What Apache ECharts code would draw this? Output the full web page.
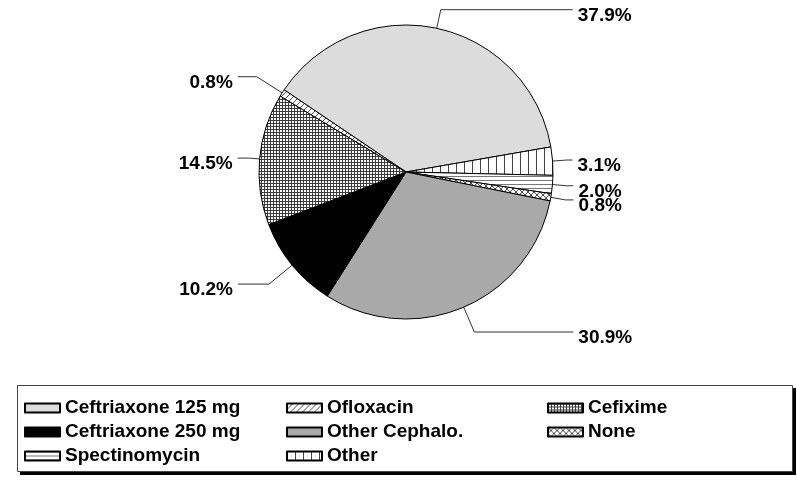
<!DOCTYPE html>
<html>
<head>
<meta charset="utf-8">
<script src="https://cdn.jsdelivr.net/npm/echarts@6/dist/echarts.min.js"></script>
<style>
  html, body { margin: 0; padding: 0; background: #fff; }
  #main { width: 797px; height: 480px; }
</style>
</head>
<body>
<div id="main"></div>
<script>
// slices in drawing order (clockwise from the upper left)
const treatments = ['Ceftriaxone 125 mg', 'Other', 'Spectinomycin', 'None', 'Other Cephalo.', 'Ceftriaxone 250 mg', 'Cefixime', 'Ofloxacin'];
const shares = [37.9, 3.1, 2.0, 0.8, 30.9, 10.2, 14.5, 0.8];

// legend columns (read row by row in the box)
const legendCol1 = ['Ceftriaxone 125 mg', 'Ceftriaxone 250 mg', 'Spectinomycin'];
const legendCol2 = ['Ofloxacin', 'Other Cephalo.', 'Other'];
const legendCol3 = ['Cefixime', 'None'];

const fontFamily = 'Liberation Sans, Arial, sans-serif';

// hatch fills
function makePattern(size, draw) {
    let c = document.createElement('canvas');
    c.width = size;
    c.height = size;
    let ctx = c.getContext('2d');
    ctx.fillStyle = '#fff';
    ctx.fillRect(0, 0, size, size);
    draw(ctx, size);
    return {image: c, repeat: 'repeat'};
}
const fills = {
    'Ceftriaxone 125 mg': '#dcdcdc',
    'Ceftriaxone 250 mg': '#000000',
    'Other Cephalo.': '#a9a9a9',
    'Ofloxacin': makePattern(6, (ctx, s) => {
        ctx.strokeStyle = '#222'; ctx.lineWidth = 0.8;
        ctx.beginPath();
        ctx.moveTo(0, s); ctx.lineTo(s, 0);
        ctx.moveTo(-1, 1); ctx.lineTo(1, -1);
        ctx.moveTo(s - 1, s + 1); ctx.lineTo(s + 1, s - 1);
        ctx.stroke();
    }),
    'Cefixime': makePattern(3, (ctx, s) => {
        ctx.fillStyle = '#3c3c3c';
        ctx.fillRect(0, 0, s, 1);
        ctx.fillRect(0, 0, 1, s);
    }),
    'None': makePattern(6, (ctx, s) => {
        ctx.strokeStyle = '#222'; ctx.lineWidth = 0.8;
        ctx.beginPath();
        ctx.moveTo(0, 0); ctx.lineTo(s, s);
        ctx.moveTo(0, s); ctx.lineTo(s, 0);
        ctx.stroke();
    }),
    'Spectinomycin': makePattern(4, (ctx, s) => {
        ctx.fillStyle = '#777';
        ctx.fillRect(0, 0, s, 1);
    }),
    'Other': makePattern(8, (ctx, s) => {
        ctx.fillStyle = '#444';
        ctx.fillRect(0, 0, 1, s);
    })
};

// leader line lengths [radial, horizontal]
const leaders = {
    'Ceftriaxone 125 mg': [19, 132],
    'Other': [14, 6],
    'Spectinomycin': [14, 7],
    'None': [15, 8],
    'Other Cephalo.': [27, 99],
    'Ceftriaxone 250 mg': [30, 31],
    'Cefixime': [10, 12],
    'Ofloxacin': [30, 19]
};

let myChart = echarts.init(document.getElementById('main'));

let pieData = treatments.map((name, i) => ({
    name: name,
    value: shares[i],
    itemStyle: {color: fills[name]},
    labelLine: {length: leaders[name][0], length2: leaders[name][1]}
}));

function legendColumn(names, left) {
    return {
        orient: 'vertical',
        left: left,
        top: 398,
        padding: 0,
        data: names,
        icon: 'rect',
        itemWidth: 35,
        itemHeight: 9,
        itemGap: 4,
        selectedMode: false,
        textStyle: {
            color: '#000',
            fontFamily: fontFamily,
            fontWeight: 'bold',
            fontSize: 19,
            lineHeight: 20
        }
    };
}

myChart.setOption({
    animation: false,
    backgroundColor: '#fff',
    graphic: [{
        // drop shadow of the legend box
        type: 'rect',
        z: 0,
        shape: {x: 20, y: 388, width: 776, height: 87},
        style: {fill: '#000'}
    }, {
        type: 'rect',
        z: 1,
        shape: {x: 17.5, y: 385.5, width: 775, height: 86},
        style: {fill: '#fff', stroke: '#444', lineWidth: 1}
    }],
    legend: [
        legendColumn(legendCol1, 24),
        legendColumn(legendCol2, 286),
        legendColumn(legendCol3, 547)
    ],
    series: [{
        type: 'pie',
        center: [406, 172],
        radius: 147,
        startAngle: 146,
        clockwise: true,
        avoidLabelOverlap: false,
        silent: true,
        itemStyle: {borderColor: '#000', borderWidth: 1},
        label: {
            show: true,
            position: 'outside',
            distanceToLabelLine: 5,
            color: '#000',
            fontFamily: fontFamily,
            fontWeight: 'bold',
            fontSize: 19,
            // empty first line drops the value a little below its leader
            formatter: (p) => '{gap| }\n{v|' + p.value.toFixed(1) + '%}',
            rich: {
                gap: {fontSize: 10, lineHeight: 12},
                v: {
                    color: '#000',
                    fontFamily: fontFamily,
                    fontWeight: 'bold',
                    fontSize: 19,
                    lineHeight: 20
                }
            }
        },
        labelLayout: {hideOverlap: false},
        labelLine: {
            show: true,
            lineStyle: {color: '#333', width: 1}
        },
        emphasis: {disabled: true},
        data: pieData
    }]
});
window.addEventListener('resize', () => myChart.resize());
</script>
</body>
</html>
